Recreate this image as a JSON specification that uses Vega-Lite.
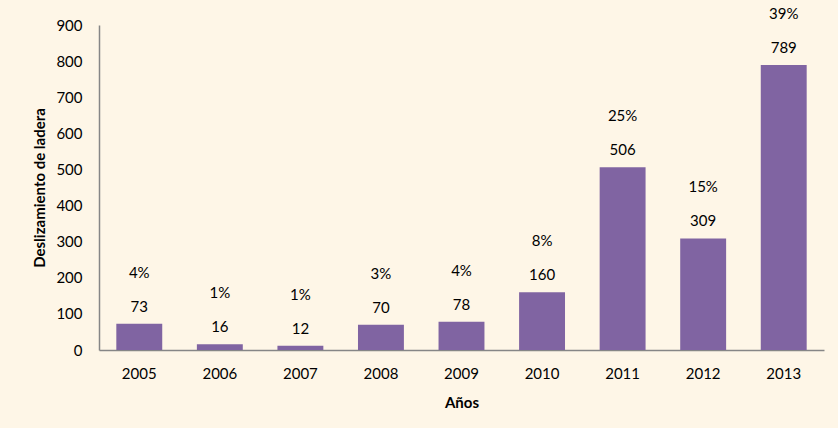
{
  "$schema": "https://vega.github.io/schema/vega-lite/v6.json",
  "width": 725,
  "height": 325,
  "autosize": {"type": "none"},
  "padding": {"left": 99, "top": 25, "right": 14, "bottom": 78},
  "background": "#FEF6E7",
  "config": {
    "view": {"stroke": null},
    "font": "Lato",
    "axis": {"labelFont": "Lato", "titleFont": "Lato", "labelColor": "#000000", "titleColor": "#000000", "grid": false, "ticks": false, "domainColor": "#868686", "domainWidth": 1.5}
  },
  "data": {
    "values": [
      {"year": "2005", "value": 73, "pct": "4%"},
      {"year": "2006", "value": 16, "pct": "1%"},
      {"year": "2007", "value": 12, "pct": "1%"},
      {"year": "2008", "value": 70, "pct": "3%"},
      {"year": "2009", "value": 78, "pct": "4%"},
      {"year": "2010", "value": 160, "pct": "8%"},
      {"year": "2011", "value": 506, "pct": "25%"},
      {"year": "2012", "value": 309, "pct": "15%"},
      {"year": "2013", "value": 789, "pct": "39%"}
    ]
  },
  "encoding": {
    "x": {
      "field": "year", "type": "ordinal",
      "scale": {"paddingInner": 0.43, "paddingOuter": 0.215},
      "axis": {"title": "Años", "labelAngle": 0, "labelFontSize": 15, "labelPadding": 16, "titleFontSize": 15, "titleFontWeight": "bold", "titlePadding": 14}
    },
    "y": {
      "field": "value", "type": "quantitative",
      "scale": {"domain": [0, 900], "nice": false},
      "axis": {"title": "Deslizamiento de ladera", "values": [0,100,200,300,400,500,600,700,800,900], "labelFontSize": 15, "labelPadding": 17, "titleFontSize": 15, "titleFontWeight": "bold", "titlePadding": 8}
    }
  },
  "layer": [
    {"mark": {"type": "bar", "color": "#8064A2"}},
    {"mark": {"type": "text", "fontSize": 15, "dy": -17, "baseline": "middle", "color": "#000000"}, "encoding": {"text": {"field": "value", "type": "quantitative"}}},
    {"mark": {"type": "text", "fontSize": 15, "dy": -51, "baseline": "middle", "color": "#000000"}, "encoding": {"text": {"field": "pct", "type": "nominal"}}}
  ]
}
